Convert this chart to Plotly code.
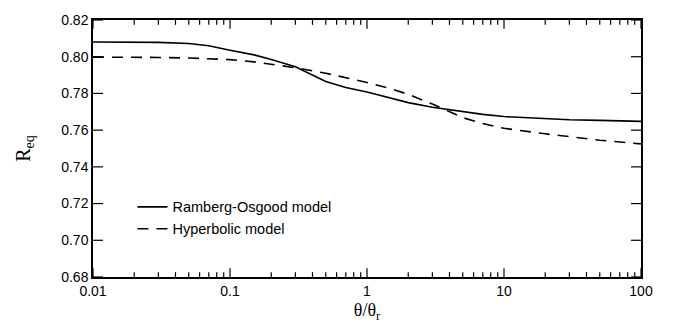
import math
import plotly.graph_objects as go

theta_ratio = [0.01, 0.02, 0.03, 0.05, 0.07, 0.1, 0.15, 0.2, 0.3, 0.5, 0.7,
               1, 1.5, 2, 3, 5, 7, 10, 20, 30, 50, 100]
req_ramberg = [0.8080, 0.8080, 0.8078, 0.8072, 0.8060, 0.8035, 0.8010, 0.7985,
               0.7945, 0.7865, 0.7832, 0.7808, 0.7772, 0.7750, 0.7725, 0.7700,
               0.7686, 0.7674, 0.7662, 0.7657, 0.7653, 0.7648]
req_hyperbolic = [0.7998, 0.7998, 0.7996, 0.7993, 0.7990, 0.7984, 0.7972, 0.7960,
                  0.7940, 0.7910, 0.7885, 0.7860, 0.7825, 0.7795, 0.7742, 0.7668,
                  0.7636, 0.7610, 0.7580, 0.7563, 0.7545, 0.7525]
x_tickvals = [0.01, 0.1, 1, 10, 100]
x_ticktext = ["0.01", "0.1", "1", "10", "100"]
x_minor_tickvals = [m * d for d in [0.01, 0.1, 1, 10] for m in range(2, 10)]
y_tickvals = [0.68, 0.70, 0.72, 0.74, 0.76, 0.78, 0.80, 0.82]
series_names = ["Ramberg-Osgood model", "Hyperbolic model"]

x_range = [-2, 2]
y_range = [0.68, 0.82]

fig = go.Figure()
fig.add_trace(go.Scatter(x=theta_ratio, y=req_ramberg, mode="lines",
                         name=series_names[0], line=dict(color="black", width=1.6)))
fig.add_trace(go.Scatter(x=theta_ratio, y=req_hyperbolic, mode="lines",
                         name=series_names[1],
                         line=dict(color="black", width=1.6, dash="11px,8px")))

# inward tick marks on all four sides (drawn as axis-domain decorations)
W, H = 673 - 93 - 32, 336 - 13 - 59
tick_line = dict(color="black", width=1.2)

def xfrac(v):
    return (math.log10(v) - x_range[0]) / (x_range[1] - x_range[0])

def yfrac(v):
    return (v - y_range[0]) / (y_range[1] - y_range[0])

for vals, length in [(x_tickvals, 9), (x_minor_tickvals, 5)]:
    L = length / H
    for v in vals:
        f = xfrac(v)
        fig.add_shape(type="line", xref="x domain", yref="y domain",
                      x0=f, x1=f, y0=0, y1=L, line=tick_line, layer="above")
        fig.add_shape(type="line", xref="x domain", yref="y domain",
                      x0=f, x1=f, y0=1, y1=1 - L, line=tick_line, layer="above")
Ly = 10 / W
for v in y_tickvals:
    f = yfrac(v)
    fig.add_shape(type="line", xref="x domain", yref="y domain",
                  x0=0, x1=Ly, y0=f, y1=f, line=tick_line, layer="above")
    fig.add_shape(type="line", xref="x domain", yref="y domain",
                  x0=1, x1=1 - Ly, y0=f, y1=f, line=tick_line, layer="above")

tickfont = dict(family="Liberation Sans, Arial, sans-serif", size=14, color="black")
fig.update_layout(
    width=673, height=336,
    margin=dict(l=93, r=32, t=13, b=59),
    paper_bgcolor="white", plot_bgcolor="white",
    showlegend=True,
    legend=dict(x=0.072, y=0.335, xanchor="left", yanchor="top",
                bgcolor="rgba(0,0,0,0)", tracegroupgap=0,
                font=dict(family="Liberation Sans, Arial, sans-serif", size=14.5, color="black")),
    xaxis=dict(type="log", range=x_range, tickmode="array", tickvals=x_tickvals, ticktext=x_ticktext,
               ticks="", showline=True, linecolor="black", linewidth=1.5, mirror=True,
               showgrid=False, zeroline=False, tickfont=tickfont,
               title=dict(text="θ/θ<sub>r</sub>", standoff=6,
                          font=dict(family="Liberation Serif, Times New Roman, serif", size=18, color="black"))),
    yaxis=dict(range=y_range, tickmode="array", tickvals=y_tickvals, tickformat=".2f",
               ticks="", showline=True, linecolor="black", linewidth=1.5, mirror=True,
               showgrid=False, zeroline=False, tickfont=tickfont,
               title=dict(text="R<sub>eq</sub>", standoff=25,
                          font=dict(family="Liberation Serif, Times New Roman, serif", size=20, color="black"))),
)

fig.write_html("out.html", config={"displayModeBar": False},
               post_script="document.body.style.margin='0';")
